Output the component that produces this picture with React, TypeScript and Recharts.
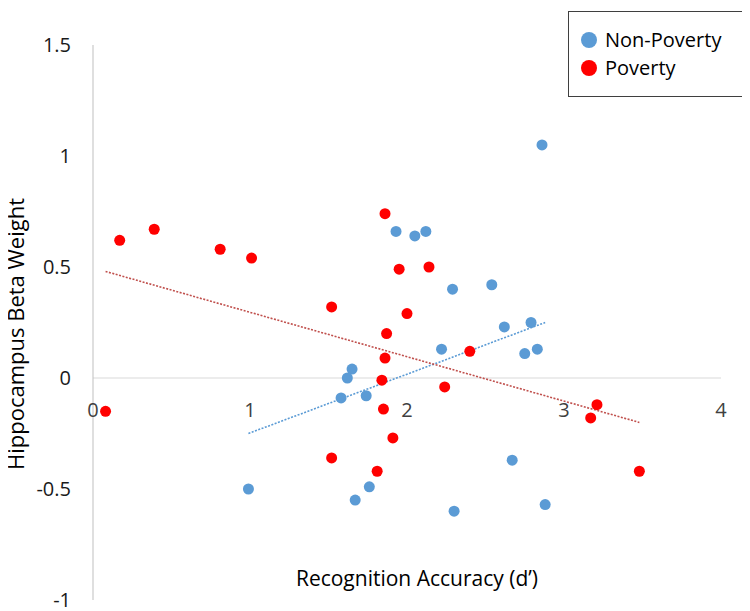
import React from 'react';
import { ScatterChart, Scatter, XAxis, YAxis, ReferenceLine } from 'recharts';

// ---- data ----
const seriesNames = ['Non-Poverty', 'Poverty'];
const seriesColors = ['#5B9BD5', '#FF0000'];
const trendColors = ['#5B9BD5', '#C0504D'];

const nonPoverty = [
  { x: 2.86, y: 1.05 }, { x: 1.93, y: 0.66 }, { x: 2.05, y: 0.64 }, { x: 2.12, y: 0.66 },
  { x: 2.29, y: 0.40 }, { x: 2.54, y: 0.42 }, { x: 2.22, y: 0.13 }, { x: 1.65, y: 0.04 },
  { x: 1.62, y: 0.0 }, { x: 1.58, y: -0.09 }, { x: 1.74, y: -0.08 }, { x: 2.62, y: 0.23 },
  { x: 2.79, y: 0.25 }, { x: 2.75, y: 0.11 }, { x: 2.83, y: 0.13 }, { x: 2.67, y: -0.37 },
  { x: 2.30, y: -0.60 }, { x: 2.88, y: -0.57 }, { x: 0.99, y: -0.50 }, { x: 1.67, y: -0.55 },
  { x: 1.76, y: -0.49 },
];

const poverty = [
  { x: 0.17, y: 0.62 }, { x: 0.39, y: 0.67 }, { x: 0.81, y: 0.58 }, { x: 1.01, y: 0.54 },
  { x: 1.86, y: 0.74 }, { x: 1.95, y: 0.49 }, { x: 2.14, y: 0.50 }, { x: 1.52, y: 0.32 },
  { x: 2.00, y: 0.29 }, { x: 1.87, y: 0.20 }, { x: 1.86, y: 0.09 }, { x: 1.84, y: -0.01 },
  { x: 2.24, y: -0.04 }, { x: 1.85, y: -0.14 }, { x: 1.91, y: -0.27 }, { x: 2.40, y: 0.12 },
  { x: 3.21, y: -0.12 }, { x: 3.17, y: -0.18 }, { x: 1.81, y: -0.42 }, { x: 3.48, y: -0.42 },
  { x: 0.08, y: -0.15 }, { x: 1.52, y: -0.36 },
];

const nonPovertyTrend = [{ x: 0.99, y: -0.25 }, { x: 2.88, y: 0.25 }];
const povertyTrend = [{ x: 0.08, y: 0.48 }, { x: 3.48, y: -0.20 }];

const xTicks = [0, 1, 2, 3, 4];
const yTicks = [-1, -0.5, 0, 0.5, 1, 1.5];
const xDomain = [0, 4];
const yDomain = [-1, 1.5];
const xTitle = 'Recognition Accuracy (d\u2019)';
const yTitle = 'Hippocampus Beta Weight';

// ---- layout ----
const W = 750;
const H = 611;
const M_TOP = 45;
const M_RIGHT = 29;
const M_BOTTOM = 10;
const XAXIS_H = 1;
const YAXIS_W = 93;
const PLOT_H = H - M_TOP - M_BOTTOM - XAXIS_H;
const Y_ZERO = M_TOP + PLOT_H * (yDomain[1] / (yDomain[1] - yDomain[0]));
const FONT = '"Open Sans", "Noto Sans", sans-serif';

const XTick = (props: any) => {
  const { x, payload } = props;
  return (
    <text x={x} y={Y_ZERO + 39} textAnchor="middle" fontSize={20} fill="#404040" fontFamily={FONT}>
      {payload.value}
    </text>
  );
};

const dot = (color: string) => (p: any) => <circle cx={p.cx} cy={p.cy} r={5.5} fill={color} />;
const noDot = () => <g />;

export default function App() {
  return (
    <div style={{ position: 'relative', width: W, height: H, marginLeft: -8, marginTop: -8, fontFamily: FONT }}>
      <ScatterChart width={W} height={H} margin={{ top: M_TOP, right: M_RIGHT, bottom: M_BOTTOM, left: 0 }}>
        <XAxis
          type="number"
          dataKey="x"
          domain={xDomain}
          ticks={xTicks}
          height={XAXIS_H}
          axisLine={false}
          tickLine={false}
          tick={<XTick />}
          interval={0}
          label={{
            content: () => (
              <text x={417} y={578} textAnchor="middle" dominantBaseline="central" fontSize={21} fill="#000" fontFamily={FONT}>
                {xTitle}
              </text>
            ),
          }}
        />
        <YAxis
          type="number"
          dataKey="y"
          domain={yDomain}
          ticks={yTicks}
          width={YAXIS_W}
          axisLine={{ stroke: '#BFBFBF', strokeWidth: 1 }}
          tickLine={false}
          tickSize={0}
          tickMargin={22}
          interval={0}
          tick={{ fontSize: 20, fill: '#1a1a1a', fontFamily: FONT }}
          label={{
            content: () => (
              <text
                x={15}
                y={334}
                transform="rotate(-90 15 334)"
                textAnchor="middle"
                dominantBaseline="central"
                fontSize={22}
                fill="#000"
                fontFamily={FONT}
              >
                {yTitle}
              </text>
            ),
          }}
        />
        <ReferenceLine y={0} stroke="#D9D9D9" strokeWidth={1.2} />
        <Scatter
          name="Non-Poverty trend"
          data={nonPovertyTrend}
          line={{ stroke: trendColors[0], strokeWidth: 1.6, strokeDasharray: '2 1.5' }}
          shape={noDot}
          isAnimationActive={false}
          legendType="none"
        />
        <Scatter
          name="Poverty trend"
          data={povertyTrend}
          line={{ stroke: trendColors[1], strokeWidth: 1.6, strokeDasharray: '2 1.5' }}
          shape={noDot}
          isAnimationActive={false}
          legendType="none"
        />
        <Scatter name={seriesNames[0]} data={nonPoverty} fill={seriesColors[0]} shape={dot(seriesColors[0])} isAnimationActive={false} />
        <Scatter name={seriesNames[1]} data={poverty} fill={seriesColors[1]} shape={dot(seriesColors[1])} isAnimationActive={false} />
      </ScatterChart>
      <div
        style={{
          position: 'absolute',
          left: 568,
          top: 11,
          width: 177,
          height: 86,
          boxSizing: 'border-box',
          border: '1.3px solid #3f3f3f',
          background: '#fff',
        }}
      >
        {seriesNames.map((name, i) => (
          <div
            key={name}
            style={{
              position: 'absolute',
              left: 12,
              top: 14 + 28 * i,
              height: 28,
              display: 'flex',
              alignItems: 'center',
              whiteSpace: 'nowrap',
            }}
          >
            <span style={{ display: 'inline-block', width: 16, height: 16, borderRadius: '50%', background: seriesColors[i] }} />
            <span style={{ marginLeft: 8, fontSize: 20, color: '#000', lineHeight: '28px' }}>{name}</span>
          </div>
        ))}
      </div>
    </div>
  );
}
